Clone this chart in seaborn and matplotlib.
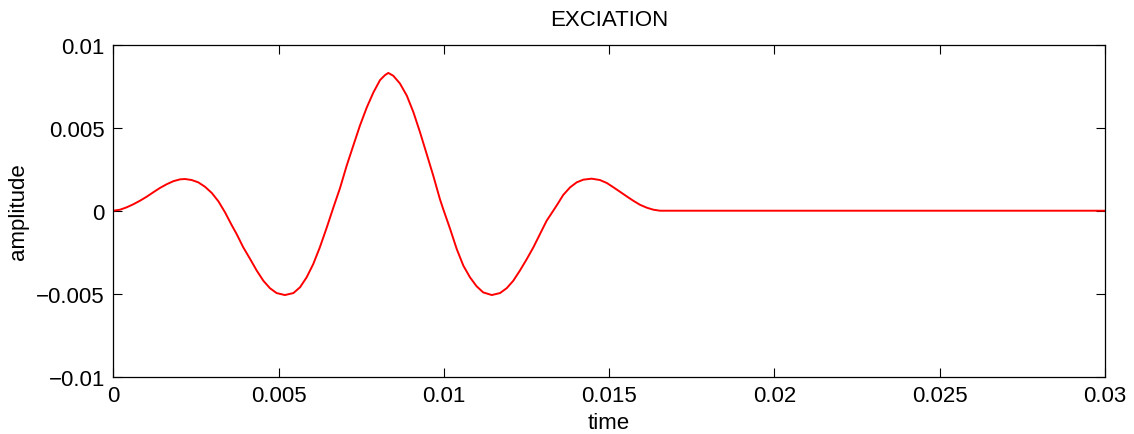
import numpy as np
import pandas as pd
import matplotlib
matplotlib.use("Agg")
import matplotlib.pyplot as plt
import seaborn as sns

# excitation pulse
time = [0.0, 0.000203, 0.000405, 0.000605, 0.000808, 0.00101, 0.00121, 0.00141,
        0.00162, 0.00182, 0.00202, 0.00217, 0.00237, 0.00257, 0.00277, 0.00298,
        0.00318, 0.00338, 0.00358, 0.00373, 0.00393, 0.00414, 0.00434, 0.00454,
        0.00474, 0.00494, 0.00519, 0.00545, 0.00565, 0.00585, 0.00605, 0.00625,
        0.00646, 0.00666, 0.00686, 0.00706, 0.00726, 0.00746, 0.00767, 0.00787,
        0.00807, 0.00822, 0.00832, 0.00847, 0.00867, 0.00888, 0.00908, 0.00928,
        0.00948, 0.00968, 0.00988, 0.00998, 0.01019, 0.01039, 0.01059, 0.01079,
        0.01099, 0.01119, 0.01145, 0.01170, 0.01190, 0.01210, 0.01230, 0.01251,
        0.01271, 0.01291, 0.01311, 0.01331, 0.01345, 0.01361, 0.01382, 0.01402,
        0.01422, 0.01447, 0.01472, 0.01493, 0.01513, 0.01533, 0.01553, 0.01573,
        0.01593, 0.01614, 0.01634, 0.01654, 0.03]
amplitude = [0.0, 0.0000602, 0.000205, 0.000386, 0.000602, 0.000843, 0.00111, 0.00137,
             0.00160, 0.00178, 0.00189, 0.00191, 0.00185, 0.00171, 0.00145, 0.00107,
             0.000566, -0.0000964, -0.000861, -0.00140, -0.00220, -0.00291, -0.00361, -0.00422,
             -0.00467, -0.00496, -0.00508, -0.00496, -0.00461, -0.00401, -0.00321, -0.00220,
             -0.00100, 0.000205, 0.00137, 0.00271, 0.00392, 0.00512, 0.00623, 0.00713,
             0.00787, 0.00817, 0.00830, 0.00813, 0.00767, 0.00693, 0.00593, 0.00472,
             0.00342, 0.00211, 0.000705, 0.000102, -0.00110, -0.00231, -0.00331, -0.00401,
             -0.00455, -0.00492, -0.00508, -0.00496, -0.00467, -0.00422, -0.00361, -0.00291,
             -0.00220, -0.00140, -0.000602, 0.0, 0.000430, 0.000946, 0.00141, 0.00171,
             0.00187, 0.00193, 0.00185, 0.00167, 0.00141, 0.00114, 0.000867, 0.000602,
             0.000361, 0.000181, 0.0000602, 0.0, 0.0]

xticks = [0, 0.005, 0.01, 0.015, 0.02, 0.025, 0.03]
xticklabels = ["0", "0.005", "0.01", "0.015", "0.02", "0.025", "0.03"]
yticks = [-0.01, -0.005, 0, 0.005, 0.01]
yticklabels = ["\u22120.01", "\u22120.005", "0", "0.005", "0.01"]

sns.set_style("white")
plt.rcParams["font.family"] = ["Liberation Sans", "DejaVu Sans"]
plt.rcParams["text.color"] = "black"
plt.rcParams["axes.labelcolor"] = "black"
plt.rcParams["xtick.color"] = "black"
plt.rcParams["ytick.color"] = "black"

df = pd.DataFrame({"time": time, "amplitude": amplitude})

fig = plt.figure(figsize=(11.34, 4.35), dpi=100)
ax = fig.add_axes([0.0999, 0.1317, 0.8745, 0.7632])
sns.lineplot(data=df, x="time", y="amplitude", color="red", linewidth=1.4,
             sort=False, estimator=None, ax=ax)

ax.set_xlim(0, 0.03)
ax.set_ylim(-0.01, 0.01)
ax.set_xticks(xticks)
ax.set_xticklabels(xticklabels)
ax.set_yticks(yticks)
ax.set_yticklabels(yticklabels)
ax.tick_params(direction="in", length=6.5, width=0.8, labelsize=16,
               top=True, right=True, bottom=True, left=True, pad=6)
for side in ax.spines.values():
    side.set_visible(True)
    side.set_color("black")
    side.set_linewidth(0.9)

ax.set_title("EXCIATION", fontsize=16, pad=14)
ax.set_xlabel("time", fontsize=16, labelpad=4)
ax.set_ylabel("amplitude", fontsize=16, labelpad=5)

fig.savefig("out.png", dpi=100)
